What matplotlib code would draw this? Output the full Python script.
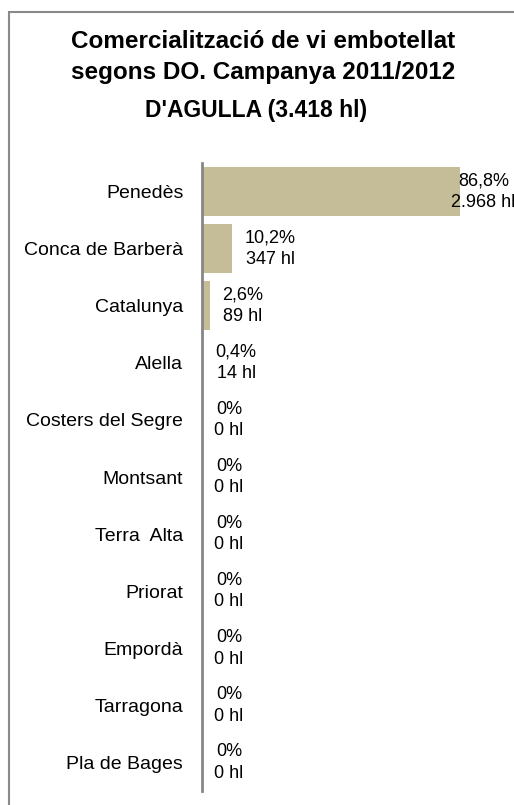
import numpy as np
import matplotlib.pyplot as plt
from matplotlib.patches import Rectangle

plt.rcParams['font.family'] = ['Liberation Sans', 'DejaVu Sans']

categories = ['Penedès', 'Conca de Barberà', 'Catalunya', 'Alella',
              'Costers del Segre', 'Montsant', 'Terra  Alta', 'Priorat',
              'Empordà', 'Tarragona', 'Pla de Bages']
hl = [2968, 347, 89, 14, 0, 0, 0, 0, 0, 0, 0]
pct = [86.8, 10.2, 2.6, 0.4, 0, 0, 0, 0, 0, 0, 0]

W, H = 514, 805
fig = plt.figure(figsize=(W / 100, H / 100), dpi=100)

# chart area border (goes off the right and bottom edge)
fig.patches.append(Rectangle((9 / W, -0.05), 1.2, 1 - 12 / H + 0.05,
                             transform=fig.transFigure, fill=False,
                             edgecolor='#8a8a8a', linewidth=1.5))

fig.text(263 / W, 1 - 57 / H, 'Comercialització de vi embotellat\nsegons DO. Campanya 2011/2012',
         ha='center', va='center', fontsize=17.5, fontweight='bold', linespacing=1.4)
fig.text(256 / W, 1 - 110 / H, "D'AGULLA (3.418 hl)", ha='center', va='center',
         fontsize=16.5, fontweight='bold')

ax = fig.add_axes([202 / W, 1 - 791 / H, 304 / W, 628 / H])
y = np.arange(len(categories))
ax.barh(y, hl, height=0.86, color='#C4BD97')
ax.set_xlim(0, 3500)
ax.set_ylim(len(categories) - 0.5, -0.5)
ax.set_yticks(y)
ax.set_yticklabels(categories, fontsize=14)
ax.tick_params(axis='y', length=0, pad=13.5)
ax.set_xticks([])
for s in ['top', 'right', 'bottom']:
    ax.spines[s].set_visible(False)
ax.spines['left'].set_color('#868686')
ax.spines['left'].set_linewidth(2)

for i, (v, p) in enumerate(zip(hl, pct)):
    ptxt = ('%.1f' % p).replace('.', ',') + '%' if p else '0%'
    htxt = '{:,}'.format(v).replace(',', '.') + ' hl'
    off = 9 if v < 2500 else -6  # Excel pulls the big label back inside
    ax.annotate(ptxt + '\n' + htxt, xy=(v, i), xytext=(off, 0),
                textcoords='offset points', ha='left', va='center',
                multialignment='center', fontsize=13, linespacing=1.35,
                annotation_clip=False)

fig.savefig('out.png', dpi=100)
